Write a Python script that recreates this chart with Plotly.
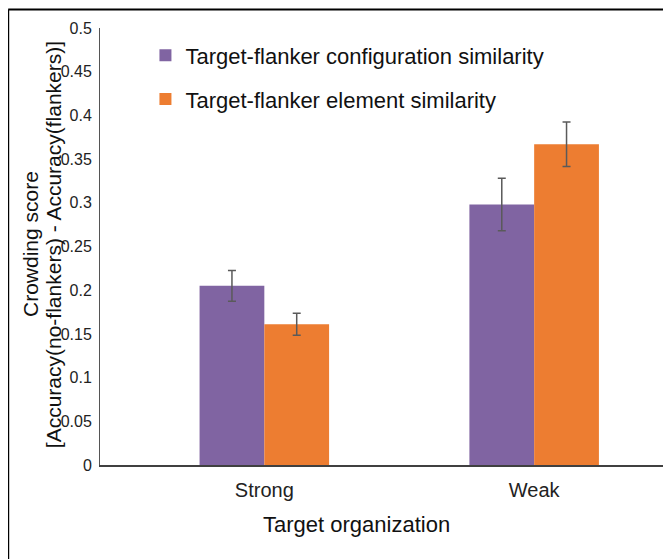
import plotly.graph_objects as go

categories = ["Strong", "Weak"]
config_vals = [0.205, 0.298]
config_err = [0.0175, 0.030]
element_vals = [0.161, 0.367]
element_err = [0.0126, 0.0255]
series_names = ["Target-flanker configuration similarity", "Target-flanker element similarity"]
colors = ["#8064A2", "#ED7D31"]
y_ticks = [0, 0.05, 0.1, 0.15, 0.2, 0.25, 0.3, 0.35, 0.4, 0.45, 0.5]
y_tick_text = ["0", "0.05", "0.1", "0.15", "0.2", "0.25", "0.3", "0.35", "0.4", "0.45", "0.5"]
x_title = "Target organization"
y_title_lines = ["Crowding score", "[Accuracy(no-flankers) - Accuracy(flankers)]"]

xpos = list(range(len(categories)))
FONT = "Liberation Sans, Arial, sans-serif"

fig = go.Figure()
for i, (name, vals, errs, col) in enumerate([
    (series_names[0], config_vals, config_err, colors[0]),
    (series_names[1], element_vals, element_err, colors[1]),
]):
    fig.add_trace(go.Bar(
        x=xpos, y=vals, name=name, legendgroup=f"g{i}",
        marker=dict(color=col, line=dict(width=0)),
        error_y=dict(type="data", array=errs, visible=True, color="#5a5a5a", thickness=1.5, width=4),
    ))

# page body has an 8px margin, so the figure is 8px smaller and margins shifted
fig.update_layout(
    width=663, height=551,
    margin=dict(l=92, r=3, t=20, b=94),
    paper_bgcolor="white", plot_bgcolor="white",
    barmode="group", bargap=0.52, bargroupgap=0,
    font=dict(family=FONT, color="#222"),
    showlegend=True,
    legend=dict(x=0.08, y=0.985, xanchor="left", yanchor="top", bgcolor="rgba(0,0,0,0)",
                font=dict(size=22, color="#111"), itemsizing="constant", tracegroupgap=12),
    xaxis=dict(range=[-0.609, 1.496], tickvals=xpos, ticktext=categories, showgrid=False, zeroline=False,
               showline=True, linecolor="#404040", linewidth=2, ticks="",
               tickfont=dict(size=20, color="#222"), ticklabelstandoff=6),
    yaxis=dict(range=[0, 0.5], tickvals=y_ticks, ticktext=y_tick_text, showgrid=False, zeroline=False,
               showline=True, linecolor="#555", linewidth=1, ticks="",
               tickfont=dict(size=16, color="#222"), ticklabelstandoff=4),
)

fig.add_annotation(text=x_title, xref="paper", yref="paper", x=0.452, y=-0.137,
                   xanchor="center", yanchor="middle", showarrow=False,
                   font=dict(size=22, color="#111", family=FONT))
for line, xp in zip(y_title_lines, [-0.122, -0.083]):
    fig.add_annotation(text=line, xref="paper", yref="paper", x=xp, y=0.505, textangle=-90,
                       xanchor="center", yanchor="middle", showarrow=False,
                       font=dict(size=21, color="#111", family=FONT))

fig.add_shape(type="line", xref="paper", yref="paper", x0=-0.1616, x1=1.1, y0=1.0423, y1=1.0423,
              line=dict(color="black", width=2))
fig.add_shape(type="line", xref="paper", yref="paper", x0=-0.1616, x1=-0.1616, y0=1.0423, y1=-0.3,
              line=dict(color="black", width=2))

fig.write_html("out.html")
